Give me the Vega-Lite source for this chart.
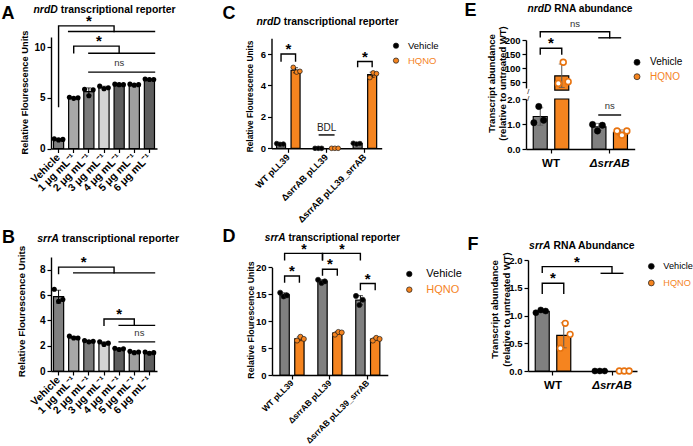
{
  "$schema": "https://vega.github.io/schema/vega-lite/v6.json",
  "width": 693,
  "height": 446,
  "autosize": "none",
  "padding": 0,
  "background": "white",
  "config": {
    "view": {"stroke": null},
    "font": "Liberation Sans",
    "axis": {"grid": false, "domainColor": "#000", "domainWidth": 1.4, "tickColor": "#000", "tickWidth": 1.2, "tickSize": 4,
      "labelColor": "#000", "labelFont": "Liberation Sans", "labelFontWeight": "bold", "labelFontSize": 10, "labelPadding": 2,
      "labelOverlap": false, "titleColor": "#000", "titleFont": "Liberation Sans", "titleFontWeight": "bold"},
    "text": {"font": "Liberation Sans"}
  },
  "datasets": {
    "a": [
      {"dose": "Vehicle", "rep": 1, "value": 0.95}, {"dose": "Vehicle", "rep": 2, "value": 0.85}, {"dose": "Vehicle", "rep": 3, "value": 0.9},
      {"dose": "1 μg mL⁻¹", "rep": 1, "value": 5.05}, {"dose": "1 μg mL⁻¹", "rep": 2, "value": 4.95}, {"dose": "1 μg mL⁻¹", "rep": 3, "value": 5.0},
      {"dose": "2 μg mL⁻¹", "rep": 1, "value": 5.85}, {"dose": "2 μg mL⁻¹", "rep": 2, "value": 5.2}, {"dose": "2 μg mL⁻¹", "rep": 3, "value": 5.8},
      {"dose": "3 μg mL⁻¹", "rep": 1, "value": 6.15}, {"dose": "3 μg mL⁻¹", "rep": 2, "value": 5.9}, {"dose": "3 μg mL⁻¹", "rep": 3, "value": 6.0},
      {"dose": "4 μg mL⁻¹", "rep": 1, "value": 6.35}, {"dose": "4 μg mL⁻¹", "rep": 2, "value": 6.3}, {"dose": "4 μg mL⁻¹", "rep": 3, "value": 6.3},
      {"dose": "5 μg mL⁻¹", "rep": 1, "value": 6.35}, {"dose": "5 μg mL⁻¹", "rep": 2, "value": 6.25}, {"dose": "5 μg mL⁻¹", "rep": 3, "value": 6.3},
      {"dose": "6 μg mL⁻¹", "rep": 1, "value": 6.85}, {"dose": "6 μg mL⁻¹", "rep": 2, "value": 6.8}, {"dose": "6 μg mL⁻¹", "rep": 3, "value": 6.8}
    ],
    "a_br": [
      {"id": "a1", "k": 1, "at": "Vehicle", "side": "mid", "y": 4.15}, {"id": "a1", "k": 2, "at": "Vehicle", "side": "mid", "y": 12.1},
      {"id": "a1", "k": 3, "at": "4 μg mL⁻¹", "side": "left", "y": 12.1}, {"id": "a1", "k": 4, "at": "4 μg mL⁻¹", "side": "left", "y": 11.55},
      {"id": "a1g", "k": 1, "at": "1 μg mL⁻¹", "side": "left", "y": 11.55}, {"id": "a1g", "k": 2, "at": "6 μg mL⁻¹", "side": "right", "y": 11.55},
      {"id": "a2", "k": 1, "at": "1 μg mL⁻¹", "side": "mid", "y": 9.45}, {"id": "a2", "k": 2, "at": "1 μg mL⁻¹", "side": "mid", "y": 10.1},
      {"id": "a2", "k": 3, "at": "4 μg mL⁻¹", "side": "mid", "y": 10.1}, {"id": "a2", "k": 4, "at": "4 μg mL⁻¹", "side": "mid", "y": 9.4},
      {"id": "a2g", "k": 1, "at": "2 μg mL⁻¹", "side": "mid", "y": 9.4}, {"id": "a2g", "k": 2, "at": "6 μg mL⁻¹", "side": "right", "y": 9.4},
      {"id": "a3", "k": 1, "at": "2 μg mL⁻¹", "side": "mid", "y": 7.53}, {"id": "a3", "k": 2, "at": "6 μg mL⁻¹", "side": "right", "y": 7.53}
    ],
    "a_tx": [
      {"label": "*", "at": "2 μg mL⁻¹", "side": "mid", "y": 12.1},
      {"label": "*", "at": "3 μg mL⁻¹", "side": "left", "y": 10.1},
      {"label": "ns", "at": "4 μg mL⁻¹", "side": "mid", "y": 7.53}
    ],
    "b": [
      {"dose": "Vehicle", "rep": 1, "value": 6.45}, {"dose": "Vehicle", "rep": 2, "value": 5.5}, {"dose": "Vehicle", "rep": 3, "value": 5.65},
      {"dose": "1 μg mL⁻¹", "rep": 1, "value": 2.75}, {"dose": "1 μg mL⁻¹", "rep": 2, "value": 2.6}, {"dose": "1 μg mL⁻¹", "rep": 3, "value": 2.6},
      {"dose": "2 μg mL⁻¹", "rep": 1, "value": 2.4}, {"dose": "2 μg mL⁻¹", "rep": 2, "value": 2.3}, {"dose": "2 μg mL⁻¹", "rep": 3, "value": 2.35},
      {"dose": "3 μg mL⁻¹", "rep": 1, "value": 2.3}, {"dose": "3 μg mL⁻¹", "rep": 2, "value": 2.1}, {"dose": "3 μg mL⁻¹", "rep": 3, "value": 2.2},
      {"dose": "4 μg mL⁻¹", "rep": 1, "value": 1.8}, {"dose": "4 μg mL⁻¹", "rep": 2, "value": 1.7}, {"dose": "4 μg mL⁻¹", "rep": 3, "value": 1.75},
      {"dose": "5 μg mL⁻¹", "rep": 1, "value": 1.55}, {"dose": "5 μg mL⁻¹", "rep": 2, "value": 1.45}, {"dose": "5 μg mL⁻¹", "rep": 3, "value": 1.5},
      {"dose": "6 μg mL⁻¹", "rep": 1, "value": 1.5}, {"dose": "6 μg mL⁻¹", "rep": 2, "value": 1.4}, {"dose": "6 μg mL⁻¹", "rep": 3, "value": 1.45}
    ],
    "b_br": [
      {"id": "b1", "k": 1, "at": "Vehicle", "side": "mid", "y": 7.7}, {"id": "b1", "k": 2, "at": "Vehicle", "side": "mid", "y": 8.2},
      {"id": "b1", "k": 3, "at": "4 μg mL⁻¹", "side": "left", "y": 8.2}, {"id": "b1", "k": 4, "at": "4 μg mL⁻¹", "side": "left", "y": 7.75},
      {"id": "b1g", "k": 1, "at": "1 μg mL⁻¹", "side": "mid", "y": 7.75}, {"id": "b1g", "k": 2, "at": "6 μg mL⁻¹", "side": "right", "y": 7.75},
      {"id": "b2", "k": 1, "at": "3 μg mL⁻¹", "side": "mid", "y": 3.6}, {"id": "b2", "k": 2, "at": "3 μg mL⁻¹", "side": "mid", "y": 4.1},
      {"id": "b2", "k": 3, "at": "5 μg mL⁻¹", "side": "mid", "y": 4.1}, {"id": "b2", "k": 4, "at": "5 μg mL⁻¹", "side": "mid", "y": 3.6},
      {"id": "b2g", "k": 1, "at": "4 μg mL⁻¹", "side": "mid", "y": 3.6}, {"id": "b2g", "k": 2, "at": "6 μg mL⁻¹", "side": "right", "y": 3.6},
      {"id": "b3", "k": 1, "at": "4 μg mL⁻¹", "side": "mid", "y": 2.3}, {"id": "b3", "k": 2, "at": "6 μg mL⁻¹", "side": "right", "y": 2.3}
    ],
    "b_tx": [
      {"label": "*", "at": "2 μg mL⁻¹", "side": "left", "y": 8.2},
      {"label": "*", "at": "4 μg mL⁻¹", "side": "mid", "y": 4.1},
      {"label": "ns", "at": "5 μg mL⁻¹", "side": "right", "y": 2.3}
    ],
    "c": [
      {"strain": "WT pLL39", "treatment": "Vehicle", "sample": "Vehicle 1", "value": 0.3},
      {"strain": "WT pLL39", "treatment": "Vehicle", "sample": "Vehicle 2", "value": 0.25},
      {"strain": "WT pLL39", "treatment": "Vehicle", "sample": "Vehicle 3", "value": 0.27},
      {"strain": "WT pLL39", "treatment": "HQNO", "sample": "HQNO 1", "value": 5.15},
      {"strain": "WT pLL39", "treatment": "HQNO", "sample": "HQNO 2", "value": 4.85},
      {"strain": "WT pLL39", "treatment": "HQNO", "sample": "HQNO 3", "value": 4.9},
      {"strain": "ΔsrrAB pLL39", "treatment": "Vehicle", "sample": "Vehicle 1", "value": 0},
      {"strain": "ΔsrrAB pLL39", "treatment": "Vehicle", "sample": "Vehicle 2", "value": 0},
      {"strain": "ΔsrrAB pLL39", "treatment": "Vehicle", "sample": "Vehicle 3", "value": 0},
      {"strain": "ΔsrrAB pLL39", "treatment": "HQNO", "sample": "HQNO 1", "value": 0},
      {"strain": "ΔsrrAB pLL39", "treatment": "HQNO", "sample": "HQNO 2", "value": 0},
      {"strain": "ΔsrrAB pLL39", "treatment": "HQNO", "sample": "HQNO 3", "value": 0},
      {"strain": "ΔsrrAB pLL39_srrAB", "treatment": "Vehicle", "sample": "Vehicle 1", "value": 0.32},
      {"strain": "ΔsrrAB pLL39_srrAB", "treatment": "Vehicle", "sample": "Vehicle 2", "value": 0.27},
      {"strain": "ΔsrrAB pLL39_srrAB", "treatment": "Vehicle", "sample": "Vehicle 3", "value": 0.3},
      {"strain": "ΔsrrAB pLL39_srrAB", "treatment": "HQNO", "sample": "HQNO 1", "value": 4.5},
      {"strain": "ΔsrrAB pLL39_srrAB", "treatment": "HQNO", "sample": "HQNO 2", "value": 4.8},
      {"strain": "ΔsrrAB pLL39_srrAB", "treatment": "HQNO", "sample": "HQNO 3", "value": 4.75}
    ],
    "c_br": [
      {"id": "c1", "k": 1, "at": "WT pLL39", "side": "Vehicle", "y": 5.56}, {"id": "c1", "k": 2, "at": "WT pLL39", "side": "Vehicle", "y": 6.0},
      {"id": "c1", "k": 3, "at": "WT pLL39", "side": "HQNO", "y": 6.0}, {"id": "c1", "k": 4, "at": "WT pLL39", "side": "HQNO", "y": 5.56},
      {"id": "c2", "k": 1, "at": "ΔsrrAB pLL39_srrAB", "side": "Vehicle", "y": 5.2}, {"id": "c2", "k": 2, "at": "ΔsrrAB pLL39_srrAB", "side": "Vehicle", "y": 5.52},
      {"id": "c2", "k": 3, "at": "ΔsrrAB pLL39_srrAB", "side": "HQNO", "y": 5.52}, {"id": "c2", "k": 4, "at": "ΔsrrAB pLL39_srrAB", "side": "HQNO", "y": 5.2},
      {"id": "c3", "k": 1, "at": "ΔsrrAB pLL39", "side": "Vehicle", "y": 0.85}, {"id": "c3", "k": 2, "at": "ΔsrrAB pLL39", "side": "HQNO", "y": 0.85}
    ],
    "c_tx": [
      {"label": "*", "at": "WT pLL39", "side": "mid", "y": 6.0},
      {"label": "*", "at": "ΔsrrAB pLL39_srrAB", "side": "mid", "y": 5.52},
      {"label": "BDL", "at": "ΔsrrAB pLL39", "side": "mid", "y": 0.85}
    ],
    "c_key": [{"treatment": "Vehicle", "y": 6.53}, {"treatment": "HQNO", "y": 5.58}],
    "d": [
      {"strain": "WT pLL39", "treatment": "Vehicle", "sample": "Vehicle 1", "value": 15.3},
      {"strain": "WT pLL39", "treatment": "Vehicle", "sample": "Vehicle 2", "value": 14.6},
      {"strain": "WT pLL39", "treatment": "Vehicle", "sample": "Vehicle 3", "value": 14.8},
      {"strain": "WT pLL39", "treatment": "HQNO", "sample": "HQNO 1", "value": 6.4},
      {"strain": "WT pLL39", "treatment": "HQNO", "sample": "HQNO 2", "value": 7.1},
      {"strain": "WT pLL39", "treatment": "HQNO", "sample": "HQNO 3", "value": 6.7},
      {"strain": "ΔsrrAB pLL39", "treatment": "Vehicle", "sample": "Vehicle 1", "value": 17.7},
      {"strain": "ΔsrrAB pLL39", "treatment": "Vehicle", "sample": "Vehicle 2", "value": 17.1},
      {"strain": "ΔsrrAB pLL39", "treatment": "Vehicle", "sample": "Vehicle 3", "value": 17.4},
      {"strain": "ΔsrrAB pLL39", "treatment": "HQNO", "sample": "HQNO 1", "value": 7.5},
      {"strain": "ΔsrrAB pLL39", "treatment": "HQNO", "sample": "HQNO 2", "value": 8.0},
      {"strain": "ΔsrrAB pLL39", "treatment": "HQNO", "sample": "HQNO 3", "value": 7.9},
      {"strain": "ΔsrrAB pLL39_srrAB", "treatment": "Vehicle", "sample": "Vehicle 1", "value": 14.7},
      {"strain": "ΔsrrAB pLL39_srrAB", "treatment": "Vehicle", "sample": "Vehicle 2", "value": 13.0},
      {"strain": "ΔsrrAB pLL39_srrAB", "treatment": "Vehicle", "sample": "Vehicle 3", "value": 14.0},
      {"strain": "ΔsrrAB pLL39_srrAB", "treatment": "HQNO", "sample": "HQNO 1", "value": 6.4},
      {"strain": "ΔsrrAB pLL39_srrAB", "treatment": "HQNO", "sample": "HQNO 2", "value": 6.9},
      {"strain": "ΔsrrAB pLL39_srrAB", "treatment": "HQNO", "sample": "HQNO 3", "value": 6.7}
    ],
    "d_br": [
      {"id": "d1", "k": 1, "at": "WT pLL39", "side": "Vehicle", "y": 21.4}, {"id": "d1", "k": 2, "at": "WT pLL39", "side": "Vehicle", "y": 22.6},
      {"id": "d1", "k": 3, "at": "ΔsrrAB pLL39", "side": "Vehicle", "y": 22.6}, {"id": "d1", "k": 4, "at": "ΔsrrAB pLL39", "side": "Vehicle", "y": 21.4},
      {"id": "d2", "k": 1, "at": "ΔsrrAB pLL39", "side": "Vehicle", "y": 21.4}, {"id": "d2", "k": 2, "at": "ΔsrrAB pLL39", "side": "Vehicle", "y": 22.6},
      {"id": "d2", "k": 3, "at": "ΔsrrAB pLL39_srrAB", "side": "Vehicle", "y": 22.6}, {"id": "d2", "k": 4, "at": "ΔsrrAB pLL39_srrAB", "side": "Vehicle", "y": 21.4},
      {"id": "d3", "k": 1, "at": "WT pLL39", "side": "Vehicle", "y": 17.3}, {"id": "d3", "k": 2, "at": "WT pLL39", "side": "Vehicle", "y": 18.4},
      {"id": "d3", "k": 3, "at": "WT pLL39", "side": "HQNO", "y": 18.4}, {"id": "d3", "k": 4, "at": "WT pLL39", "side": "HQNO", "y": 17.3},
      {"id": "d4", "k": 1, "at": "ΔsrrAB pLL39", "side": "Vehicle", "y": 18.6}, {"id": "d4", "k": 2, "at": "ΔsrrAB pLL39", "side": "Vehicle", "y": 19.65},
      {"id": "d4", "k": 3, "at": "ΔsrrAB pLL39", "side": "HQNO", "y": 19.65}, {"id": "d4", "k": 4, "at": "ΔsrrAB pLL39", "side": "HQNO", "y": 18.6},
      {"id": "d5", "k": 1, "at": "ΔsrrAB pLL39_srrAB", "side": "Vehicle", "y": 15.9}, {"id": "d5", "k": 2, "at": "ΔsrrAB pLL39_srrAB", "side": "Vehicle", "y": 17.0},
      {"id": "d5", "k": 3, "at": "ΔsrrAB pLL39_srrAB", "side": "HQNO", "y": 17.0}, {"id": "d5", "k": 4, "at": "ΔsrrAB pLL39_srrAB", "side": "HQNO", "y": 15.9}
    ],
    "d_tx": [
      {"label": "*", "at": "WT pLL39", "side": "mid", "y": 18.4},
      {"label": "*", "at": "ΔsrrAB pLL39", "side": "mid", "y": 19.65},
      {"label": "*", "at": "ΔsrrAB pLL39_srrAB", "side": "mid", "y": 17.0}
    ],
    "d_key": [{"treatment": "Vehicle", "y": 18.77}, {"treatment": "HQNO", "y": 15.86}],
    "e": [
      {"strain": "WT", "treatment": "Vehicle", "sample": "Vehicle 1", "value": 1.05},
      {"strain": "WT", "treatment": "Vehicle", "sample": "Vehicle 2", "value": 1.7},
      {"strain": "WT", "treatment": "Vehicle", "sample": "Vehicle 3", "value": 1.15},
      {"strain": "WT", "treatment": "HQNO", "sample": "HQNO 1", "value": 46},
      {"strain": "WT", "treatment": "HQNO", "sample": "HQNO 2", "value": 121},
      {"strain": "WT", "treatment": "HQNO", "sample": "HQNO 3", "value": 52},
      {"strain": "ΔsrrAB", "treatment": "Vehicle", "sample": "Vehicle 1", "value": 0.98},
      {"strain": "ΔsrrAB", "treatment": "Vehicle", "sample": "Vehicle 2", "value": 0.72},
      {"strain": "ΔsrrAB", "treatment": "Vehicle", "sample": "Vehicle 3", "value": 0.95},
      {"strain": "ΔsrrAB", "treatment": "HQNO", "sample": "HQNO 1", "value": 0.72},
      {"strain": "ΔsrrAB", "treatment": "HQNO", "sample": "HQNO 2", "value": 0.55},
      {"strain": "ΔsrrAB", "treatment": "HQNO", "sample": "HQNO 3", "value": 0.72}
    ],
    "e_up_br": [
      {"id": "e1", "k": 1, "at": "WT", "side": "Vehicle", "y": 150.3}, {"id": "e1", "k": 2, "at": "WT", "side": "Vehicle", "y": 170.5},
      {"id": "e1", "k": 3, "at": "WT", "side": "HQNO", "y": 170.5}, {"id": "e1", "k": 4, "at": "WT", "side": "HQNO", "y": 150.3},
      {"id": "e2", "k": 1, "at": "WT", "side": "Vehicle", "y": 211.7}, {"id": "e2", "k": 2, "at": "WT", "side": "Vehicle", "y": 229.4},
      {"id": "e2", "k": 3, "at": "ΔsrrAB", "side": "mid", "y": 229.4}, {"id": "e2", "k": 4, "at": "ΔsrrAB", "side": "mid", "y": 207.8},
      {"id": "e2g", "k": 1, "at": "ΔsrrAB", "side": "Vehicle", "y": 207.8}, {"id": "e2g", "k": 2, "at": "ΔsrrAB", "side": "HQNO", "y": 207.8}
    ],
    "e_lo_br": [
      {"id": "e3", "k": 1, "at": "ΔsrrAB", "side": "Vehicle", "y": 1.36}, {"id": "e3", "k": 2, "at": "ΔsrrAB", "side": "HQNO", "y": 1.36}
    ],
    "e_key": [{"treatment": "Vehicle", "y": 120.8}, {"treatment": "HQNO", "y": 69.7}],
    "f": [
      {"strain": "WT", "treatment": "Vehicle", "sample": "Vehicle 1", "value": 1.05},
      {"strain": "WT", "treatment": "Vehicle", "sample": "Vehicle 2", "value": 1.1},
      {"strain": "WT", "treatment": "Vehicle", "sample": "Vehicle 3", "value": 1.08},
      {"strain": "WT", "treatment": "HQNO", "sample": "HQNO 1", "value": 0.41},
      {"strain": "WT", "treatment": "HQNO", "sample": "HQNO 2", "value": 0.86},
      {"strain": "WT", "treatment": "HQNO", "sample": "HQNO 3", "value": 0.66},
      {"strain": "ΔsrrAB", "treatment": "Vehicle", "sample": "Vehicle 1", "value": 0},
      {"strain": "ΔsrrAB", "treatment": "Vehicle", "sample": "Vehicle 2", "value": 0},
      {"strain": "ΔsrrAB", "treatment": "Vehicle", "sample": "Vehicle 3", "value": 0},
      {"strain": "ΔsrrAB", "treatment": "HQNO", "sample": "HQNO 1", "value": 0},
      {"strain": "ΔsrrAB", "treatment": "HQNO", "sample": "HQNO 2", "value": 0},
      {"strain": "ΔsrrAB", "treatment": "HQNO", "sample": "HQNO 3", "value": 0}
    ],
    "f_br": [
      {"id": "f1", "k": 1, "at": "WT", "side": "Vehicle", "y": 1.4}, {"id": "f1", "k": 2, "at": "WT", "side": "Vehicle", "y": 1.58},
      {"id": "f1", "k": 3, "at": "WT", "side": "HQNO", "y": 1.58}, {"id": "f1", "k": 4, "at": "WT", "side": "HQNO", "y": 1.4},
      {"id": "f2", "k": 1, "at": "WT", "side": "Vehicle", "y": 1.78}, {"id": "f2", "k": 2, "at": "WT", "side": "Vehicle", "y": 1.88},
      {"id": "f2", "k": 3, "at": "ΔsrrAB", "side": "mid", "y": 1.88}, {"id": "f2", "k": 4, "at": "ΔsrrAB", "side": "mid", "y": 1.76},
      {"id": "f2g", "k": 1, "at": "ΔsrrAB", "side": "Vehicle", "y": 1.76}, {"id": "f2g", "k": 2, "at": "ΔsrrAB", "side": "HQNO", "y": 1.76}
    ],
    "f_key": [{"treatment": "Vehicle", "y": 1.886}, {"treatment": "HQNO", "y": 1.586}]
  },
  "layer": [
    {
      "data": {"name": "a"},
      "layer": [
        {
          "mark": {"type": "bar", "stroke": "#000", "strokeWidth": 1.2},
          "encoding": {
            "x": {"field": "dose", "type": "nominal", "sort": null,
              "scale": {"domain": ["Vehicle", "1 μg mL⁻¹", "2 μg mL⁻¹", "3 μg mL⁻¹", "4 μg mL⁻¹", "5 μg mL⁻¹", "6 μg mL⁻¹"], "range": [51, 157], "paddingInner": 0.33, "paddingOuter": 0.165},
              "axis": {"orient": "bottom", "offset": -297.5, "labelAngle": -45, "labelAlign": "right", "labelBaseline": "middle", "labelPadding": 3, "labelFontSize": 10.5,
                "title": "transcriptional reporter", "titleX": 60.2, "titleY": -136.5, "titleAlign": "left", "titleBaseline": "alphabetic", "titleAngle": 0, "titleFontSize": 10.4}},
            "y": {"aggregate": "mean", "field": "value", "type": "quantitative", "stack": null,
              "scale": {"domain": [0, 11], "range": [148.5, 37], "nice": false, "zero": false},
              "axis": {"orient": "left", "offset": -51, "values": [0, 5, 10], "labelFontSize": 10,
                "title": "Relative Flourescence Units", "titleX": -27, "titleY": 92, "titleAngle": 270, "titleAlign": "center", "titleBaseline": "middle", "titleFontSize": 9.3}},
            "fill": {"field": "dose", "type": "nominal", "legend": null,
              "scale": {"domain": ["Vehicle", "1 μg mL⁻¹", "2 μg mL⁻¹", "3 μg mL⁻¹", "4 μg mL⁻¹", "5 μg mL⁻¹", "6 μg mL⁻¹"], "range": ["#808080", "#a8a8a8", "#7a7a7a", "#d4d4d4", "#5e5e5e", "#a0a0a0", "#5e5e5e"]}}
          }
        },
        {
          "mark": {"type": "errorbar", "extent": "stdev", "color": "#000", "thickness": 1, "ticks": {"size": 5, "thickness": 1}},
          "encoding": {"x": {"field": "dose", "type": "nominal", "axis": null}, "y": {"field": "value", "type": "quantitative", "axis": null}}
        },
        {
          "mark": {"type": "circle", "size": 26, "color": "#000", "opacity": 1},
          "encoding": {
            "x": {"field": "dose", "type": "nominal", "axis": null},
            "xOffset": {"field": "rep", "type": "nominal", "scale": {"domain": [1, 2, 3], "paddingInner": 0, "paddingOuter": 0.18}},
            "y": {"field": "value", "type": "quantitative", "axis": null}
          }
        },
        {
          "data": {"name": "a_br"},
          "mark": {"type": "line", "color": "#000", "strokeWidth": 1.4, "strokeCap": "square"},
          "encoding": {
            "x": {"field": "at", "type": "nominal", "axis": {"orient": "top", "offset": 0, "domain": false, "ticks": false, "labels": false,
              "title": "A", "titleX": 1, "titleY": 18, "titleAlign": "left", "titleBaseline": "alphabetic", "titleAngle": 0, "titleFontSize": 18}},
            "xOffset": {"field": "side", "type": "nominal", "scale": {"type": "point", "domain": ["left", "mid", "right"], "padding": 0}},
            "y": {"field": "y", "type": "quantitative", "axis": {"orient": "right", "offset": 0, "domain": false, "ticks": false, "labels": false,
              "title": "nrdD", "titleFontStyle": "italic", "titleX": -660, "titleY": 12, "titleAlign": "left", "titleBaseline": "alphabetic", "titleAngle": 0, "titleFontSize": 10.4}},
            "detail": {"field": "id"},
            "order": {"field": "k", "type": "quantitative"}
          }
        },
        {
          "data": {"name": "a_tx"},
          "transform": [{"filter": "datum.label == '*'"}],
          "mark": {"type": "text", "fontSize": 15, "fontWeight": "bold", "baseline": "alphabetic", "color": "#000"},
          "encoding": {
            "x": {"field": "at", "type": "nominal", "axis": null},
            "xOffset": {"field": "side", "type": "nominal", "scale": {"type": "point", "domain": ["left", "mid", "right"], "padding": 0}},
            "y": {"field": "y", "type": "quantitative", "axis": null},
            "text": {"field": "label"}
          }
        },
        {
          "data": {"name": "a_tx"},
          "transform": [{"filter": "datum.label != '*'"}],
          "mark": {"type": "text", "fontSize": 9.5, "baseline": "alphabetic", "color": "#333", "dy": -6},
          "encoding": {
            "x": {"field": "at", "type": "nominal", "axis": null},
            "xOffset": {"field": "side", "type": "nominal", "scale": {"type": "point", "domain": ["left", "mid", "right"], "padding": 0}},
            "y": {"field": "y", "type": "quantitative", "axis": null},
            "text": {"field": "label"}
          }
        }
      ],
      "resolve": {"scale": {"xOffset": "independent"}, "axis": {"x": "independent", "y": "independent"}}
    },
    {
      "data": {"name": "b"},
      "layer": [
        {
          "mark": {"type": "bar", "stroke": "#000", "strokeWidth": 1.2},
          "encoding": {
            "x": {"field": "dose", "type": "nominal", "sort": null,
              "scale": {"domain": ["Vehicle", "1 μg mL⁻¹", "2 μg mL⁻¹", "3 μg mL⁻¹", "4 μg mL⁻¹", "5 μg mL⁻¹", "6 μg mL⁻¹"], "range": [51, 157], "paddingInner": 0.33, "paddingOuter": 0.165},
              "axis": {"orient": "bottom", "offset": -75, "labelAngle": -45, "labelAlign": "right", "labelBaseline": "middle", "labelPadding": 3, "labelFontSize": 10.5,
                "title": "transcriptional reporter", "titleX": 61.4, "titleY": -129.2, "titleAlign": "left", "titleBaseline": "alphabetic", "titleAngle": 0, "titleFontSize": 10.6}},
            "y": {"aggregate": "mean", "field": "value", "type": "quantitative", "stack": null,
              "scale": {"domain": [0, 9], "range": [371, 257], "nice": false, "zero": false},
              "axis": {"orient": "left", "offset": -51, "values": [0, 2, 4, 6, 8], "labelFontSize": 10,
                "title": "Relative Flourescence Units", "titleX": -30, "titleY": 311, "titleAngle": 270, "titleAlign": "center", "titleBaseline": "middle", "titleFontSize": 9.9}},
            "fill": {"field": "dose", "type": "nominal", "legend": null,
              "scale": {"domain": ["Vehicle", "1 μg mL⁻¹", "2 μg mL⁻¹", "3 μg mL⁻¹", "4 μg mL⁻¹", "5 μg mL⁻¹", "6 μg mL⁻¹"], "range": ["#808080", "#a8a8a8", "#7a7a7a", "#d4d4d4", "#5e5e5e", "#a0a0a0", "#5e5e5e"]}}
          }
        },
        {
          "mark": {"type": "errorbar", "extent": "stdev", "color": "#000", "thickness": 1, "ticks": {"size": 5, "thickness": 1}},
          "encoding": {"x": {"field": "dose", "type": "nominal", "axis": null}, "y": {"field": "value", "type": "quantitative", "axis": null}}
        },
        {
          "mark": {"type": "circle", "size": 26, "color": "#000", "opacity": 1},
          "encoding": {
            "x": {"field": "dose", "type": "nominal", "axis": null},
            "xOffset": {"field": "rep", "type": "nominal", "scale": {"domain": [1, 2, 3], "paddingInner": 0, "paddingOuter": 0.18}},
            "y": {"field": "value", "type": "quantitative", "axis": null}
          }
        },
        {
          "data": {"name": "b_br"},
          "mark": {"type": "line", "color": "#000", "strokeWidth": 1.4, "strokeCap": "square"},
          "encoding": {
            "x": {"field": "at", "type": "nominal", "axis": {"orient": "top", "offset": 0, "domain": false, "ticks": false, "labels": false,
              "title": "B", "titleX": 1.5, "titleY": 242, "titleAlign": "left", "titleBaseline": "alphabetic", "titleAngle": 0, "titleFontSize": 18}},
            "xOffset": {"field": "side", "type": "nominal", "scale": {"type": "point", "domain": ["left", "mid", "right"], "padding": 0}},
            "y": {"field": "y", "type": "quantitative", "axis": {"orient": "right", "offset": 0, "domain": false, "ticks": false, "labels": false,
              "title": "srrA", "titleFontStyle": "italic", "titleX": -656.3, "titleY": 241.8, "titleAlign": "left", "titleBaseline": "alphabetic", "titleAngle": 0, "titleFontSize": 10.6}},
            "detail": {"field": "id"},
            "order": {"field": "k", "type": "quantitative"}
          }
        },
        {
          "data": {"name": "b_tx"},
          "transform": [{"filter": "datum.label == '*'"}],
          "mark": {"type": "text", "fontSize": 15, "fontWeight": "bold", "baseline": "alphabetic", "color": "#000"},
          "encoding": {
            "x": {"field": "at", "type": "nominal", "axis": null},
            "xOffset": {"field": "side", "type": "nominal", "scale": {"type": "point", "domain": ["left", "mid", "right"], "padding": 0}},
            "y": {"field": "y", "type": "quantitative", "axis": null},
            "text": {"field": "label"}
          }
        },
        {
          "data": {"name": "b_tx"},
          "transform": [{"filter": "datum.label != '*'"}],
          "mark": {"type": "text", "fontSize": 9.5, "baseline": "alphabetic", "color": "#333", "dy": -6},
          "encoding": {
            "x": {"field": "at", "type": "nominal", "axis": null},
            "xOffset": {"field": "side", "type": "nominal", "scale": {"type": "point", "domain": ["left", "mid", "right"], "padding": 0}},
            "y": {"field": "y", "type": "quantitative", "axis": null},
            "text": {"field": "label"}
          }
        }
      ],
      "resolve": {"scale": {"xOffset": "independent"}, "axis": {"x": "independent", "y": "independent"}}
    },
    {
      "data": {"name": "c"},
      "layer": [
        {
          "mark": {"type": "bar", "stroke": "#000", "strokeWidth": 1.2},
          "encoding": {
            "x": {"field": "strain", "type": "nominal", "sort": null,
              "scale": {"domain": ["WT pLL39", "ΔsrrAB pLL39", "ΔsrrAB pLL39_srrAB"], "range": [271.5, 381.7], "paddingInner": 0.386, "paddingOuter": 0.1316},
              "axis": {"orient": "bottom", "offset": -297.7, "labelAngle": -45, "labelAlign": "right", "labelBaseline": "middle", "labelPadding": 3, "labelFontSize": 9.2,
                "title": "transcriptional reporter", "titleX": 283.2, "titleY": -123.8, "titleAlign": "left", "titleBaseline": "alphabetic", "titleAngle": 0, "titleFontSize": 10.4}},
            "xOffset": {"field": "treatment", "type": "nominal", "scale": {"domain": ["Vehicle", "HQNO"], "paddingInner": 0.38, "paddingOuter": 0}},
            "y": {"aggregate": "mean", "field": "value", "type": "quantitative", "stack": null,
              "scale": {"domain": [0, 7], "range": [148.3, 38.3], "nice": false, "zero": false},
              "axis": {"orient": "left", "offset": -271.5, "values": [0, 2, 4, 6], "labelFontSize": 9.5,
                "title": "Relative Flourescence Units", "titleX": -21.7, "titleY": 96, "titleAngle": 270, "titleAlign": "center", "titleBaseline": "middle", "titleFontSize": 8.4}},
            "fill": {"field": "treatment", "type": "nominal", "legend": null, "scale": {"domain": ["Vehicle", "HQNO"], "range": ["#808080", "#f5841f"]}}
          }
        },
        {
          "mark": {"type": "errorbar", "extent": "stdev", "color": "#000", "thickness": 1, "ticks": {"size": 5, "thickness": 1}},
          "encoding": {
            "x": {"field": "strain", "type": "nominal", "axis": null},
            "xOffset": {"field": "treatment", "type": "nominal", "scale": {"domain": ["Vehicle", "HQNO"], "paddingInner": 0.38, "paddingOuter": 0}},
            "y": {"field": "value", "type": "quantitative", "axis": null}
          }
        },
        {
          "mark": {"type": "point", "shape": "circle", "filled": true, "size": 22, "stroke": "#1a1a1a", "strokeWidth": 0.7, "opacity": 1},
          "encoding": {
            "x": {"field": "strain", "type": "nominal", "axis": null},
            "xOffset": {"field": "sample", "type": "nominal", "scale": {"domain": ["Vehicle 1", "Vehicle 2", "Vehicle 3", "gap 1", "gap 2", "HQNO 1", "HQNO 2", "HQNO 3"], "paddingInner": 0, "paddingOuter": 0.052}},
            "y": {"field": "value", "type": "quantitative", "axis": null},
            "color": {"field": "treatment", "type": "nominal", "legend": null, "scale": {"domain": ["Vehicle", "HQNO"], "range": ["#000000", "#f5841f"]}}
          }
        },
        {
          "data": {"name": "c_key"},
          "mark": {"type": "point", "shape": "circle", "filled": true, "size": 28, "stroke": "#1a1a1a", "strokeWidth": 0.7, "opacity": 1},
          "encoding": {
            "x": {"datum": "ΔsrrAB pLL39_srrAB", "bandPosition": 1.823, "axis": null},
            "y": {"field": "y", "type": "quantitative", "axis": null},
            "color": {"field": "treatment", "type": "nominal", "legend": null}
          }
        },
        {
          "data": {"name": "c_key"},
          "mark": {"type": "text", "align": "left", "baseline": "middle", "dx": 12, "fontSize": 9.5},
          "encoding": {
            "x": {"datum": "ΔsrrAB pLL39_srrAB", "bandPosition": 1.823, "axis": null},
            "y": {"field": "y", "type": "quantitative", "axis": null},
            "text": {"field": "treatment"},
            "color": {"field": "treatment", "type": "nominal", "legend": null}
          }
        },
        {
          "data": {"name": "c_br"},
          "mark": {"type": "line", "color": "#000", "strokeWidth": 1.4, "strokeCap": "square"},
          "encoding": {
            "x": {"field": "at", "type": "nominal", "axis": {"orient": "top", "offset": 0, "domain": false, "ticks": false, "labels": false,
              "title": "C", "titleX": 222, "titleY": 18, "titleAlign": "left", "titleBaseline": "alphabetic", "titleAngle": 0, "titleFontSize": 18}},
            "xOffset": {"field": "side", "type": "nominal", "scale": {"type": "point", "domain": ["Vehicle", "mid", "HQNO"], "padding": 0.62}},
            "y": {"field": "y", "type": "quantitative", "axis": {"orient": "right", "offset": 0, "domain": false, "ticks": false, "labels": false,
              "title": "nrdD", "titleFontStyle": "italic", "titleX": -437, "titleY": 24.5, "titleAlign": "left", "titleBaseline": "alphabetic", "titleAngle": 0, "titleFontSize": 10.4}},
            "detail": {"field": "id"},
            "order": {"field": "k", "type": "quantitative"}
          }
        },
        {
          "data": {"name": "c_tx"},
          "transform": [{"filter": "datum.label == '*'"}],
          "mark": {"type": "text", "fontSize": 15, "fontWeight": "bold", "baseline": "alphabetic", "color": "#000"},
          "encoding": {
            "x": {"field": "at", "type": "nominal", "axis": null},
            "xOffset": {"field": "side", "type": "nominal", "scale": {"type": "point", "domain": ["Vehicle", "mid", "HQNO"], "padding": 0.62}},
            "y": {"field": "y", "type": "quantitative", "axis": null},
            "text": {"field": "label"}
          }
        },
        {
          "data": {"name": "c_tx"},
          "transform": [{"filter": "datum.label != '*'"}],
          "mark": {"type": "text", "fontSize": 10, "baseline": "alphabetic", "color": "#222", "dy": -4},
          "encoding": {
            "x": {"field": "at", "type": "nominal", "axis": null},
            "xOffset": {"field": "side", "type": "nominal", "scale": {"type": "point", "domain": ["Vehicle", "mid", "HQNO"], "padding": 0.62}},
            "y": {"field": "y", "type": "quantitative", "axis": null},
            "text": {"field": "label"}
          }
        }
      ],
      "resolve": {"scale": {"xOffset": "independent"}, "axis": {"x": "independent", "y": "independent"}}
    },
    {
      "data": {"name": "d"},
      "layer": [
        {
          "mark": {"type": "bar", "stroke": "#000", "strokeWidth": 1.2},
          "encoding": {
            "x": {"field": "strain", "type": "nominal", "sort": null,
              "scale": {"domain": ["WT pLL39", "ΔsrrAB pLL39", "ΔsrrAB pLL39_srrAB"], "range": [272, 387.8], "paddingInner": 0.364, "paddingOuter": 0.21},
              "axis": {"orient": "bottom", "offset": -71, "labelAngle": -45, "labelAlign": "right", "labelBaseline": "middle", "labelPadding": 2, "labelFontSize": 8.5,
                "title": "transcriptional reporter", "titleX": 287.9, "titleY": -134.3, "titleAlign": "left", "titleBaseline": "alphabetic", "titleAngle": 0, "titleFontSize": 10.1}},
            "xOffset": {"field": "treatment", "type": "nominal", "scale": {"domain": ["Vehicle", "HQNO"], "paddingInner": 0.37, "paddingOuter": 0}},
            "y": {"aggregate": "mean", "field": "value", "type": "quantitative", "stack": null,
              "scale": {"domain": [0, 20], "range": [375, 267.4], "nice": false, "zero": false},
              "axis": {"orient": "left", "offset": -272, "values": [0, 5, 10, 15, 20], "labelFontSize": 9.5,
                "title": "Relative Flourescence Units", "titleX": -22, "titleY": 319.5, "titleAngle": 270, "titleAlign": "center", "titleBaseline": "middle", "titleFontSize": 8.8}},
            "fill": {"field": "treatment", "type": "nominal", "legend": null, "scale": {"domain": ["Vehicle", "HQNO"], "range": ["#808080", "#f5841f"]}}
          }
        },
        {
          "mark": {"type": "errorbar", "extent": "stdev", "color": "#000", "thickness": 1, "ticks": {"size": 5, "thickness": 1}},
          "encoding": {
            "x": {"field": "strain", "type": "nominal", "axis": null},
            "xOffset": {"field": "treatment", "type": "nominal", "scale": {"domain": ["Vehicle", "HQNO"], "paddingInner": 0.37, "paddingOuter": 0}},
            "y": {"field": "value", "type": "quantitative", "axis": null}
          }
        },
        {
          "mark": {"type": "point", "shape": "circle", "filled": true, "size": 26, "stroke": "#1a1a1a", "strokeWidth": 0.7, "opacity": 1},
          "encoding": {
            "x": {"field": "strain", "type": "nominal", "axis": null},
            "xOffset": {"field": "sample", "type": "nominal", "scale": {"domain": ["Vehicle 1", "Vehicle 2", "Vehicle 3", "gap 1", "gap 2", "HQNO 1", "HQNO 2", "HQNO 3"], "paddingInner": 0, "paddingOuter": 0.071}},
            "y": {"field": "value", "type": "quantitative", "axis": null},
            "color": {"field": "treatment", "type": "nominal", "legend": null, "scale": {"domain": ["Vehicle", "HQNO"], "range": ["#000000", "#f5841f"]}}
          }
        },
        {
          "data": {"name": "d_key"},
          "mark": {"type": "point", "shape": "circle", "filled": true, "size": 30, "stroke": "#1a1a1a", "strokeWidth": 0.7, "opacity": 1},
          "encoding": {
            "x": {"datum": "ΔsrrAB pLL39_srrAB", "bandPosition": 2.222, "axis": null},
            "y": {"field": "y", "type": "quantitative", "axis": null},
            "color": {"field": "treatment", "type": "nominal", "legend": null}
          }
        },
        {
          "data": {"name": "d_key"},
          "mark": {"type": "text", "align": "left", "baseline": "middle", "dx": 17, "fontSize": 11},
          "encoding": {
            "x": {"datum": "ΔsrrAB pLL39_srrAB", "bandPosition": 2.222, "axis": null},
            "y": {"field": "y", "type": "quantitative", "axis": null},
            "text": {"field": "treatment"},
            "color": {"field": "treatment", "type": "nominal", "legend": null}
          }
        },
        {
          "data": {"name": "d_br"},
          "mark": {"type": "line", "color": "#000", "strokeWidth": 1.4, "strokeCap": "square"},
          "encoding": {
            "x": {"field": "at", "type": "nominal", "axis": {"orient": "top", "offset": 0, "domain": false, "ticks": false, "labels": false,
              "title": "D", "titleX": 222, "titleY": 241, "titleAlign": "left", "titleBaseline": "alphabetic", "titleAngle": 0, "titleFontSize": 18}},
            "xOffset": {"field": "side", "type": "nominal", "scale": {"type": "point", "domain": ["Vehicle", "mid", "HQNO"], "padding": 0.628}},
            "y": {"field": "y", "type": "quantitative", "axis": {"orient": "right", "offset": 0, "domain": false, "ticks": false, "labels": false,
              "title": "srrA", "titleFontStyle": "italic", "titleX": -428.7, "titleY": 240.7, "titleAlign": "left", "titleBaseline": "alphabetic", "titleAngle": 0, "titleFontSize": 10.1}},
            "detail": {"field": "id"},
            "order": {"field": "k", "type": "quantitative"}
          }
        },
        {
          "data": {"name": "d_tx"},
          "mark": {"type": "text", "fontSize": 15, "fontWeight": "bold", "baseline": "alphabetic", "color": "#000"},
          "encoding": {
            "x": {"field": "at", "type": "nominal", "axis": null},
            "xOffset": {"field": "side", "type": "nominal", "scale": {"type": "point", "domain": ["Vehicle", "mid", "HQNO"], "padding": 0.628}},
            "y": {"field": "y", "type": "quantitative", "axis": null},
            "text": {"field": "label"}
          }
        },
        {
          "data": {"values": [{"at": "WT pLL39", "label": "*", "y": 22.6}, {"at": "ΔsrrAB pLL39", "label": "*", "y": 22.6}]},
          "mark": {"type": "text", "fontSize": 14, "fontWeight": "bold", "baseline": "alphabetic", "color": "#000", "dy": 1},
          "encoding": {
            "x": {"field": "at", "type": "nominal", "bandPosition": 1, "axis": null},
            "y": {"field": "y", "type": "quantitative", "axis": null},
            "text": {"field": "label"}
          }
        }
      ],
      "resolve": {"scale": {"xOffset": "independent"}, "axis": {"x": "independent", "y": "independent"}}
    },
    {
      "data": {"name": "e"},
      "layer": [
        {
          "transform": [{"filter": "datum.strain == 'WT' && datum.treatment == 'HQNO'"}],
          "mark": {"type": "bar", "stroke": "#000", "strokeWidth": 1.2},
          "encoding": {
            "x": {"field": "strain", "type": "nominal", "sort": null, "axis": null,
              "scale": {"domain": ["WT", "ΔsrrAB"], "range": [526, 634.7], "paddingInner": 0.395, "paddingOuter": 0.1234}},
            "xOffset": {"field": "treatment", "type": "nominal", "scale": {"domain": ["Vehicle", "HQNO"], "paddingInner": 0.35, "paddingOuter": 0}},
            "y": {"aggregate": "mean", "field": "value", "type": "quantitative", "stack": null,
              "scale": {"domain": [30, 200], "range": [87.9, 40], "nice": false, "zero": false},
              "axis": {"orient": "left", "offset": -526, "values": [50, 100, 150, 200], "labelFontSize": 9.5, "title": null}},
            "y2": {"datum": 22},
            "fill": {"field": "treatment", "type": "nominal", "legend": null, "scale": {"domain": ["Vehicle", "HQNO"], "range": ["#808080", "#f5841f"]}}
          }
        },
        {
          "transform": [{"filter": "datum.strain == 'WT' && datum.treatment == 'HQNO'"}],
          "mark": {"type": "errorbar", "extent": "stdev", "color": "#555", "thickness": 1, "ticks": {"size": 6, "thickness": 1}},
          "encoding": {
            "x": {"field": "strain", "type": "nominal", "axis": null},
            "xOffset": {"field": "treatment", "type": "nominal", "scale": {"domain": ["Vehicle", "HQNO"], "paddingInner": 0.35, "paddingOuter": 0}},
            "y": {"field": "value", "type": "quantitative", "axis": null}
          }
        },
        {
          "transform": [{"filter": "datum.value > 2"}],
          "mark": {"type": "point", "shape": "circle", "filled": true, "fill": "#ffffff", "stroke": "#e8730f", "strokeWidth": 1.6, "size": 34, "opacity": 1},
          "encoding": {
            "x": {"field": "strain", "type": "nominal", "axis": null},
            "xOffset": {"field": "sample", "type": "nominal", "scale": {"domain": ["Vehicle 1", "Vehicle 2", "Vehicle 3", "gap 1", "gap 2", "HQNO 1", "HQNO 2", "HQNO 3"], "paddingInner": 0, "paddingOuter": 0.128}},
            "y": {"field": "value", "type": "quantitative", "axis": null}
          }
        },
        {
          "data": {"name": "e_key"},
          "mark": {"type": "point", "shape": "circle", "filled": true, "size": 36, "stroke": "#1a1a1a", "strokeWidth": 0.7, "opacity": 1},
          "encoding": {
            "x": {"datum": "ΔsrrAB", "bandPosition": 1.269, "axis": null},
            "y": {"field": "y", "type": "quantitative", "axis": null},
            "color": {"field": "treatment", "type": "nominal", "legend": null, "scale": {"domain": ["Vehicle", "HQNO"], "range": ["#000000", "#f5841f"]}}
          }
        },
        {
          "data": {"name": "e_key"},
          "mark": {"type": "text", "align": "left", "baseline": "middle", "dx": 13, "fontSize": 10},
          "encoding": {
            "x": {"datum": "ΔsrrAB", "bandPosition": 1.269, "axis": null},
            "y": {"field": "y", "type": "quantitative", "axis": null},
            "text": {"field": "treatment"},
            "color": {"field": "treatment", "type": "nominal", "legend": null}
          }
        },
        {
          "data": {"name": "e_up_br"},
          "mark": {"type": "line", "color": "#000", "strokeWidth": 1.4, "strokeCap": "square"},
          "encoding": {
            "x": {"field": "at", "type": "nominal", "axis": null},
            "xOffset": {"field": "side", "type": "nominal", "scale": {"type": "point", "domain": ["Vehicle", "mid", "HQNO"], "padding": 0.651}},
            "y": {"field": "y", "type": "quantitative", "axis": null},
            "detail": {"field": "id"},
            "order": {"field": "k", "type": "quantitative"}
          }
        },
        {
          "data": {"values": [{"at": "WT", "side": "mid", "label": "*", "y": 170.5}]},
          "mark": {"type": "text", "fontSize": 15, "fontWeight": "bold", "baseline": "alphabetic", "color": "#000"},
          "encoding": {
            "x": {"field": "at", "type": "nominal", "axis": null},
            "xOffset": {"field": "side", "type": "nominal", "scale": {"type": "point", "domain": ["Vehicle", "mid", "HQNO"], "padding": 0.651}},
            "y": {"field": "y", "type": "quantitative", "axis": null},
            "text": {"field": "label"}
          }
        },
        {
          "data": {"values": [{"at": "WT", "label": "ns", "y": 229.4}]},
          "mark": {"type": "text", "fontSize": 9.5, "baseline": "alphabetic", "color": "#333", "dy": -5},
          "encoding": {
            "x": {"field": "at", "type": "nominal", "bandPosition": 1.176, "axis": null},
            "y": {"field": "y", "type": "quantitative", "axis": null},
            "text": {"field": "label"}
          }
        },
        {
          "data": {"values": [{"at": "WT", "label": ["/", "/"], "y": 14}]},
          "mark": {"type": "text", "fontSize": 7.5, "lineHeight": 6.5, "baseline": "middle", "color": "#000", "dx": -5},
          "encoding": {
            "x": {"field": "at", "type": "nominal", "bandPosition": 0, "axis": null},
            "y": {"field": "y", "type": "quantitative", "axis": null},
            "text": {"field": "label"}
          }
        }
      ],
      "resolve": {"scale": {"xOffset": "independent"}, "axis": {"x": "independent", "y": "independent"}}
    },
    {
      "data": {"name": "e"},
      "layer": [
        {
          "mark": {"type": "bar", "stroke": "#000", "strokeWidth": 1.2},
          "encoding": {
            "x": {"field": "strain", "type": "nominal", "sort": null,
              "scale": {"domain": ["WT", "ΔsrrAB"], "range": [526, 634.7], "paddingInner": 0.395, "paddingOuter": 0.1234},
              "axis": {"orient": "bottom", "offset": -297, "labelAngle": 0, "labelPadding": 4, "labelFontSize": 11.5,
                "labelFontStyle": {"condition": {"test": "datum.value == 'ΔsrrAB'", "value": "italic"}, "value": "normal"},
                "title": "RNA abundance", "titleX": 553.7, "titleY": -138, "titleAlign": "left", "titleBaseline": "alphabetic", "titleAngle": 0, "titleFontSize": 10.2}},
            "xOffset": {"field": "treatment", "type": "nominal", "scale": {"domain": ["Vehicle", "HQNO"], "paddingInner": 0.35, "paddingOuter": 0}},
            "y": {"aggregate": "mean", "field": "value", "type": "quantitative", "stack": null,
              "scale": {"domain": [0, 2], "range": [149, 99], "nice": false, "zero": false, "clamp": true},
              "axis": {"orient": "left", "offset": -526, "values": [0, 1, 2], "labelFontSize": 9.5,
                "title": ["Transcript abundance", "(relative to untreated WT)"], "titleX": -35, "titleY": 83, "titleAngle": 270, "titleAlign": "center", "titleBaseline": "middle", "titleFontSize": 9.5, "titleLineHeight": 11.7}},
            "fill": {"field": "treatment", "type": "nominal", "legend": null, "scale": {"domain": ["Vehicle", "HQNO"], "range": ["#808080", "#f5841f"]}}
          }
        },
        {
          "transform": [{"filter": "!(datum.strain == 'WT' && datum.treatment == 'HQNO')"}],
          "mark": {"type": "errorbar", "extent": "stdev", "color": "#555", "thickness": 1, "ticks": {"size": 6, "thickness": 1}},
          "encoding": {
            "x": {"field": "strain", "type": "nominal", "axis": null},
            "xOffset": {"field": "treatment", "type": "nominal", "scale": {"domain": ["Vehicle", "HQNO"], "paddingInner": 0.35, "paddingOuter": 0}},
            "y": {"field": "value", "type": "quantitative", "axis": null}
          }
        },
        {
          "transform": [{"filter": "datum.value <= 2 && datum.treatment == 'Vehicle'"}],
          "mark": {"type": "point", "shape": "circle", "filled": true, "fill": "#000000", "stroke": "#000000", "strokeWidth": 0.5, "size": 40, "opacity": 1},
          "encoding": {
            "x": {"field": "strain", "type": "nominal", "axis": null},
            "xOffset": {"field": "sample", "type": "nominal", "scale": {"domain": ["Vehicle 1", "Vehicle 2", "Vehicle 3", "gap 1", "gap 2", "HQNO 1", "HQNO 2", "HQNO 3"], "paddingInner": 0, "paddingOuter": 0.128}},
            "y": {"field": "value", "type": "quantitative", "axis": null}
          }
        },
        {
          "transform": [{"filter": "datum.value <= 2 && datum.treatment == 'HQNO'"}],
          "mark": {"type": "point", "shape": "circle", "filled": true, "fill": "#ffffff", "stroke": "#e8730f", "strokeWidth": 1.6, "size": 34, "opacity": 1},
          "encoding": {
            "x": {"field": "strain", "type": "nominal", "axis": null},
            "xOffset": {"field": "sample", "type": "nominal", "scale": {"domain": ["Vehicle 1", "Vehicle 2", "Vehicle 3", "gap 1", "gap 2", "HQNO 1", "HQNO 2", "HQNO 3"], "paddingInner": 0, "paddingOuter": 0.128}},
            "y": {"field": "value", "type": "quantitative", "axis": null}
          }
        },
        {
          "data": {"name": "e_lo_br"},
          "mark": {"type": "line", "color": "#000", "strokeWidth": 1.4, "strokeCap": "square"},
          "encoding": {
            "x": {"field": "at", "type": "nominal", "axis": {"orient": "top", "offset": 0, "domain": false, "ticks": false, "labels": false,
              "title": "E", "titleX": 464, "titleY": 15, "titleAlign": "left", "titleBaseline": "alphabetic", "titleAngle": 0, "titleFontSize": 18}},
            "xOffset": {"field": "side", "type": "nominal", "scale": {"type": "point", "domain": ["Vehicle", "mid", "HQNO"], "padding": 0.651}},
            "y": {"field": "y", "type": "quantitative", "axis": {"orient": "right", "offset": 0, "domain": false, "ticks": false, "labels": false,
              "title": "nrdD", "titleFontStyle": "italic", "titleX": -165.9, "titleY": 11, "titleAlign": "left", "titleBaseline": "alphabetic", "titleAngle": 0, "titleFontSize": 10.2}},
            "detail": {"field": "id"},
            "order": {"field": "k", "type": "quantitative"}
          }
        },
        {
          "data": {"values": [{"at": "ΔsrrAB", "side": "mid", "label": "ns", "y": 1.36}]},
          "mark": {"type": "text", "fontSize": 9.5, "baseline": "alphabetic", "color": "#333", "dy": -6},
          "encoding": {
            "x": {"field": "at", "type": "nominal", "axis": null},
            "xOffset": {"field": "side", "type": "nominal", "scale": {"type": "point", "domain": ["Vehicle", "mid", "HQNO"], "padding": 0.651}},
            "y": {"field": "y", "type": "quantitative", "axis": null},
            "text": {"field": "label"}
          }
        }
      ],
      "resolve": {"scale": {"xOffset": "independent"}, "axis": {"x": "independent", "y": "independent"}}
    },
    {
      "data": {"name": "f"},
      "layer": [
        {
          "mark": {"type": "bar", "stroke": "#000", "strokeWidth": 1.2},
          "encoding": {
            "x": {"field": "strain", "type": "nominal", "sort": null,
              "scale": {"domain": ["WT", "ΔsrrAB"], "range": [528, 637], "paddingInner": 0.398, "paddingOuter": 0.1227},
              "axis": {"orient": "bottom", "offset": -75, "labelAngle": 0, "labelPadding": 4, "labelFontSize": 11.5,
                "labelFontStyle": {"condition": {"test": "datum.value == 'ΔsrrAB'", "value": "italic"}, "value": "normal"},
                "title": "RNA Abundance", "titleX": 552.9, "titleY": -122.5, "titleAlign": "left", "titleBaseline": "alphabetic", "titleAngle": 0, "titleFontSize": 10.4}},
            "xOffset": {"field": "treatment", "type": "nominal", "scale": {"domain": ["Vehicle", "HQNO"], "paddingInner": 0.35, "paddingOuter": 0}},
            "y": {"aggregate": "mean", "field": "value", "type": "quantitative", "stack": null,
              "scale": {"domain": [0, 2], "range": [371, 260], "nice": false, "zero": false},
              "axis": {"orient": "left", "offset": -528, "values": [0, 0.5, 1, 1.5, 2], "format": ".1f", "labelFontSize": 9.5,
                "title": ["Transcript abundance", "(relative to untreated WT)"], "titleX": -33.5, "titleY": 309, "titleAngle": 270, "titleAlign": "center", "titleBaseline": "middle", "titleFontSize": 9.5, "titleLineHeight": 11.7}},
            "fill": {"field": "treatment", "type": "nominal", "legend": null, "scale": {"domain": ["Vehicle", "HQNO"], "range": ["#808080", "#f5841f"]}}
          }
        },
        {
          "mark": {"type": "errorbar", "extent": "stdev", "color": "#555", "thickness": 1, "ticks": {"size": 6, "thickness": 1}},
          "encoding": {
            "x": {"field": "strain", "type": "nominal", "axis": null},
            "xOffset": {"field": "treatment", "type": "nominal", "scale": {"domain": ["Vehicle", "HQNO"], "paddingInner": 0.35, "paddingOuter": 0}},
            "y": {"field": "value", "type": "quantitative", "axis": null}
          }
        },
        {
          "transform": [{"filter": "datum.treatment == 'Vehicle'"}],
          "mark": {"type": "point", "shape": "circle", "filled": true, "fill": "#000000", "stroke": "#000000", "strokeWidth": 0.5, "size": 36, "opacity": 1},
          "encoding": {
            "x": {"field": "strain", "type": "nominal", "axis": null},
            "xOffset": {"field": "sample", "type": "nominal", "scale": {"domain": ["Vehicle 1", "Vehicle 2", "Vehicle 3", "gap 1", "gap 2", "HQNO 1", "HQNO 2", "HQNO 3"], "paddingInner": 0, "paddingOuter": 0.128}},
            "y": {"field": "value", "type": "quantitative", "axis": null}
          }
        },
        {
          "transform": [{"filter": "datum.treatment == 'HQNO'"}],
          "mark": {"type": "point", "shape": "circle", "filled": true, "fill": "#ffffff", "stroke": "#e8730f", "strokeWidth": 1.6, "size": 32, "opacity": 1},
          "encoding": {
            "x": {"field": "strain", "type": "nominal", "axis": null},
            "xOffset": {"field": "sample", "type": "nominal", "scale": {"domain": ["Vehicle 1", "Vehicle 2", "Vehicle 3", "gap 1", "gap 2", "HQNO 1", "HQNO 2", "HQNO 3"], "paddingInner": 0, "paddingOuter": 0.128}},
            "y": {"field": "value", "type": "quantitative", "axis": null}
          }
        },
        {
          "data": {"name": "f_key"},
          "mark": {"type": "point", "shape": "circle", "filled": true, "size": 34, "stroke": "#1a1a1a", "strokeWidth": 0.7, "opacity": 1},
          "encoding": {
            "x": {"datum": "ΔsrrAB", "bandPosition": 1.607, "axis": null},
            "y": {"field": "y", "type": "quantitative", "axis": null},
            "color": {"field": "treatment", "type": "nominal", "legend": null, "scale": {"domain": ["Vehicle", "HQNO"], "range": ["#000000", "#f5841f"]}}
          }
        },
        {
          "data": {"name": "f_key"},
          "mark": {"type": "text", "align": "left", "baseline": "middle", "dx": 12, "fontSize": 9.2},
          "encoding": {
            "x": {"datum": "ΔsrrAB", "bandPosition": 1.607, "axis": null},
            "y": {"field": "y", "type": "quantitative", "axis": null},
            "text": {"field": "treatment"},
            "color": {"field": "treatment", "type": "nominal", "legend": null}
          }
        },
        {
          "data": {"name": "f_br"},
          "mark": {"type": "line", "color": "#000", "strokeWidth": 1.4, "strokeCap": "square"},
          "encoding": {
            "x": {"field": "at", "type": "nominal", "axis": {"orient": "top", "offset": 0, "domain": false, "ticks": false, "labels": false,
              "title": "F", "titleX": 467, "titleY": 249, "titleAlign": "left", "titleBaseline": "alphabetic", "titleAngle": 0, "titleFontSize": 18}},
            "xOffset": {"field": "side", "type": "nominal", "scale": {"type": "point", "domain": ["Vehicle", "mid", "HQNO"], "padding": 0.651}},
            "y": {"field": "y", "type": "quantitative", "axis": {"orient": "right", "offset": 0, "domain": false, "ticks": false, "labels": false,
              "title": "srrA", "titleFontStyle": "italic", "titleX": -164.4, "titleY": 248.5, "titleAlign": "left", "titleBaseline": "alphabetic", "titleAngle": 0, "titleFontSize": 10.4}},
            "detail": {"field": "id"},
            "order": {"field": "k", "type": "quantitative"}
          }
        },
        {
          "data": {"values": [{"at": "WT", "side": "mid", "label": "*", "y": 1.58}]},
          "mark": {"type": "text", "fontSize": 15, "fontWeight": "bold", "baseline": "alphabetic", "color": "#000"},
          "encoding": {
            "x": {"field": "at", "type": "nominal", "axis": null},
            "xOffset": {"field": "side", "type": "nominal", "scale": {"type": "point", "domain": ["Vehicle", "mid", "HQNO"], "padding": 0.651}},
            "y": {"field": "y", "type": "quantitative", "axis": null},
            "text": {"field": "label"}
          }
        },
        {
          "data": {"values": [{"at": "WT", "label": "*", "y": 1.88}]},
          "mark": {"type": "text", "fontSize": 15, "fontWeight": "bold", "baseline": "alphabetic", "color": "#000"},
          "encoding": {
            "x": {"field": "at", "type": "nominal", "bandPosition": 1.17, "axis": null},
            "y": {"field": "y", "type": "quantitative", "axis": null},
            "text": {"field": "label"}
          }
        }
      ],
      "resolve": {"scale": {"xOffset": "independent"}, "axis": {"x": "independent", "y": "independent"}}
    }
  ],
  "resolve": {
    "scale": {"x": "independent", "y": "independent", "xOffset": "independent", "fill": "independent", "color": "independent"},
    "axis": {"x": "independent", "y": "independent"}
  }
}
